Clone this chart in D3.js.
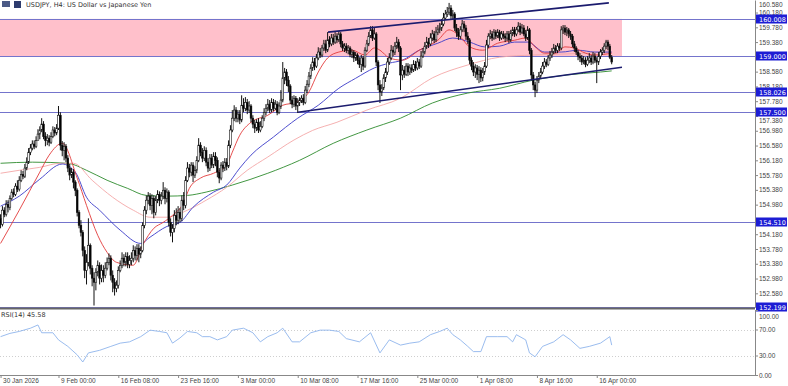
<!DOCTYPE html>
<html>
<head>
<meta charset="utf-8">
<script src="https://cdn.jsdelivr.net/npm/d3@7/dist/d3.min.js"></script>
<style>
  body { margin: 0; background: #fff; }
  svg { display: block; font-family: Tahoma, 'DejaVu Sans', sans-serif; }
</style>
</head>
<body>
<div id="chart"></div>
<script>
// USDJPY H4 candles (bar 0 = 30 Jan 2026)
const firstOpen = 154.61;
const closes = [
  154.45,154.83,154.72,154.99,154.91,155.15,155.32,155.26,155.48,155.40,
  155.64,155.80,155.75,155.97,156.13,156.40,156.51,156.62,156.56,156.72,
  156.89,157.00,157.16,156.83,156.72,156.78,156.67,156.83,157.00,156.92,
  157.05,157.40,156.59,156.45,156.56,156.24,155.97,155.78,155.86,155.59,
  155.37,154.77,154.42,154.23,153.74,153.20,153.42,153.88,153.26,152.99,
  152.88,153.15,153.34,152.99,153.20,153.07,153.26,153.42,153.53,153.07,
  152.88,152.71,152.80,153.20,153.34,153.53,153.42,153.58,153.36,153.47,
  153.53,153.74,153.61,153.80,153.64,153.74,154.42,154.83,155.10,155.21,
  154.96,155.15,154.77,155.10,155.26,155.10,155.21,155.37,155.15,155.32,
  154.50,154.23,154.34,154.69,154.56,154.77,154.61,155.10,154.96,155.64,
  155.97,155.86,156.05,155.78,155.91,156.18,156.59,156.40,156.24,156.45,
  156.13,155.97,156.24,156.05,156.29,156.18,155.86,155.70,156.05,155.97,
  156.13,156.02,156.59,157.00,157.32,157.54,157.32,157.43,157.27,157.67,
  157.59,157.75,157.54,157.65,157.32,157.16,157.05,157.21,157.00,157.10,
  157.32,157.48,157.59,157.70,157.54,157.75,157.59,157.70,157.48,157.65,
  157.81,158.41,158.57,158.35,158.19,157.81,157.70,157.86,157.65,157.75,
  157.81,157.86,157.75,158.08,158.24,158.46,158.68,158.84,158.73,158.95,
  159.11,159.03,159.22,159.33,159.16,159.44,159.33,159.49,159.38,159.54,
  159.44,159.60,159.33,159.22,159.27,159.16,159.22,159.05,159.11,158.95,
  159.03,158.89,158.78,158.95,158.73,159.16,159.33,159.54,159.71,159.49,
  159.60,158.84,158.22,158.03,158.14,158.41,158.57,158.84,158.95,159.16,
  159.11,159.27,159.38,159.22,158.49,158.62,158.51,158.73,158.57,158.68,
  158.62,158.78,158.68,158.84,158.73,159.00,159.11,159.27,159.38,159.33,
  159.49,159.60,159.44,159.65,159.71,159.76,159.87,160.03,160.14,160.19,
  160.30,160.09,160.14,159.76,159.65,159.54,159.71,159.87,159.76,159.54,
  159.44,158.89,158.73,158.57,158.68,158.51,158.62,158.41,158.57,158.73,
  159.30,159.54,159.60,159.49,159.65,159.54,159.65,159.49,159.60,159.54,
  159.49,159.60,159.44,159.62,159.71,159.60,159.71,159.81,159.65,159.76,
  159.60,159.49,159.71,159.16,158.49,158.22,158.08,158.35,158.46,158.57,
  158.73,158.84,158.78,158.95,159.03,159.11,159.22,159.16,159.27,159.22,
  159.71,159.76,159.65,159.71,159.60,159.54,159.33,159.22,159.11,159.00,
  158.95,158.84,158.89,158.78,158.89,158.95,158.84,159.00,158.89,158.84,
  159.00,159.11,159.16,159.27,159.38,159.27,158.97,158.84
];
const highs = [
  154.72,154.94,154.91,155.10,155.10,155.23,155.40,155.42,155.56,155.64,
  155.75,155.91,155.89,156.08,156.26,156.51,156.62,156.72,156.72,156.83,
  157.02,157.10,157.32,157.24,156.94,156.89,156.86,156.94,157.10,157.08,
  157.16,157.65,157.48,156.70,156.67,156.62,156.32,156.08,155.97,155.94,
  155.64,155.42,154.83,154.56,154.29,153.85,153.64,154.61,153.93,153.34,
  153.15,153.26,153.47,153.42,153.36,153.34,153.42,153.55,153.66,153.61,
  153.20,152.99,152.93,153.31,153.47,153.69,153.64,153.69,153.69,153.61,
  153.69,153.88,153.85,153.91,153.91,153.85,154.50,154.94,155.23,155.32,
  155.29,155.26,155.23,155.21,155.37,155.34,155.32,155.59,155.45,155.42,
  155.37,154.61,154.45,154.83,154.88,154.94,154.88,155.23,155.32,155.75,
  156.13,156.08,156.13,156.13,156.02,156.29,156.78,156.67,156.51,156.56,
  156.53,156.24,156.35,156.35,156.40,156.40,156.26,155.97,156.13,156.16,
  156.24,156.24,156.72,157.13,157.54,157.67,157.62,157.54,157.54,157.94,
  157.86,157.89,157.84,157.78,157.70,157.40,157.27,157.29,157.32,157.24,
  157.40,157.59,157.70,157.84,157.81,157.86,157.84,157.81,157.78,157.75,
  158.08,158.84,158.68,158.65,158.46,158.24,157.92,157.94,157.92,157.86,
  157.89,157.94,157.97,158.19,158.35,158.57,158.78,158.97,158.95,159.06,
  159.24,159.22,159.30,159.44,159.44,159.65,159.54,159.60,159.60,159.65,
  159.62,159.68,159.65,159.41,159.35,159.35,159.30,159.27,159.19,159.16,
  159.11,159.08,158.97,159.03,159.00,159.24,159.44,159.65,159.81,159.81,
  159.76,159.65,158.89,158.35,158.24,158.51,158.68,158.95,159.08,159.30,
  159.27,159.38,159.52,159.46,159.27,158.76,158.73,158.81,158.81,158.78,
  158.78,158.89,158.87,158.95,158.92,159.14,159.22,159.38,159.52,159.49,
  159.62,159.71,159.68,159.79,159.84,159.90,160.00,160.17,160.25,160.33,
  160.44,160.38,160.25,160.19,159.87,159.76,159.81,159.98,159.95,159.84,
  159.65,159.49,158.97,158.84,158.78,158.76,158.73,158.70,158.68,158.84,
  159.44,159.62,159.71,159.68,159.73,159.71,159.73,159.71,159.68,159.68,
  159.62,159.68,159.68,159.71,159.79,159.79,159.79,159.92,159.90,159.87,
  159.84,159.71,159.81,159.76,159.22,158.57,158.30,158.46,158.57,158.68,
  158.84,158.95,158.92,159.03,159.14,159.22,159.33,159.30,159.35,159.35,
  159.81,159.84,159.84,159.79,159.76,159.68,159.60,159.41,159.27,159.16,
  159.08,159.03,159.00,158.97,159.00,159.08,159.03,159.11,159.08,158.97,
  159.11,159.19,159.24,159.35,159.44,159.44,159.33,159.03
];
const lows = [
  154.34,154.39,154.64,154.66,154.77,154.83,155.10,155.18,155.21,155.32,
  155.34,155.59,155.67,155.70,155.91,156.08,156.32,156.45,156.48,156.51,
  156.81,156.75,156.94,156.75,156.56,156.59,156.56,156.62,156.78,156.83,
  156.86,157.00,156.45,156.29,156.18,156.13,155.86,155.64,155.70,155.42,
  155.21,154.66,154.34,154.12,153.58,152.99,152.82,153.31,153.09,152.77,
  152.25,152.66,153.04,152.82,152.88,152.88,152.99,153.20,153.34,152.93,
  152.61,152.52,152.61,152.71,153.15,153.26,153.31,153.31,153.26,153.26,
  153.34,153.42,153.47,153.47,153.42,153.53,153.69,154.34,154.72,154.99,
  154.83,154.72,154.61,154.69,155.02,154.94,154.99,155.13,154.99,155.04,
  154.39,154.12,153.96,154.23,154.42,154.45,154.50,154.53,154.83,154.88,
  155.59,155.72,155.75,155.59,155.70,155.83,156.13,156.29,156.13,156.16,
  156.02,155.86,155.89,155.97,155.97,156.02,155.72,155.56,155.64,155.86,
  155.89,155.91,155.97,156.51,156.94,157.24,157.21,157.21,157.16,157.21,
  157.48,157.51,157.43,157.46,157.21,157.05,156.92,156.97,156.92,156.94,
  157.05,157.24,157.40,157.51,157.46,157.48,157.51,157.54,157.40,157.43,
  157.57,157.75,158.24,158.19,158.03,157.70,157.59,157.62,157.54,157.46,
  157.65,157.73,157.67,157.70,158.00,158.16,158.38,158.60,158.62,158.68,
  158.89,158.95,158.97,159.14,159.08,159.11,159.24,159.27,159.30,159.33,
  159.35,159.38,159.24,159.14,159.11,159.08,159.05,158.97,158.95,158.84,
  158.87,158.78,158.68,158.57,158.62,158.68,159.11,159.27,159.49,159.41,
  159.44,158.73,158.08,157.73,157.92,158.08,158.30,158.49,158.76,158.89,
  159.00,159.03,159.19,159.11,158.08,158.35,158.41,158.46,158.46,158.49,
  158.54,158.57,158.60,158.62,158.65,158.68,158.95,159.05,159.19,159.22,
  159.27,159.41,159.35,159.38,159.57,159.62,159.68,159.81,159.98,160.06,
  160.11,160.00,159.98,159.68,159.52,159.44,159.46,159.65,159.65,159.44,
  159.33,158.78,158.62,158.46,158.41,158.35,158.27,158.30,158.32,158.49,
  158.68,159.22,159.46,159.41,159.44,159.46,159.49,159.41,159.44,159.46,
  159.38,159.41,159.35,159.38,159.54,159.52,159.54,159.65,159.57,159.60,
  159.54,159.41,159.44,159.05,158.35,158.08,157.89,158.00,158.27,158.38,
  158.51,158.65,158.70,158.73,158.87,158.95,159.05,159.08,159.08,159.14,
  159.16,159.60,159.57,159.54,159.49,159.44,159.24,159.11,159.03,158.89,
  158.84,158.76,158.78,158.70,158.73,158.81,158.76,158.78,158.81,158.27,
  158.76,158.92,159.03,159.08,159.19,159.16,158.92,158.78
];

// moving averages as [bar, price]
const maRed = [[0,153.93],[10,154.83],[21,155.86],[26,156.32],[33,156.64],[41,155.70],[46,154.96],[52,154.15],[57,153.69],[62,153.42],[71,153.34],[76,153.88],[82,154.34],[87,154.50],[92,154.69],[98,155.04],[101,155.42],[107,155.70],[114,155.83],[121,156.05],[124,156.40],[128,156.86],[134,157.21],[143,157.40],[151,157.67],[158,157.75],[165,158.03],[170,158.57],[175,158.95],[181,159.11],[188,159.16],[195,159.03],[200,159.22],[203,159.16],[208,158.95],[215,158.89],[224,159.16],[234,159.43],[240,159.71],[246,159.52],[251,159.25],[258,159.16],[266,159.35],[275,159.43],[281,159.49],[286,159.25],[291,159.08],[297,159.08],[302,159.25],[307,159.22],[313,159.08],[318,159.03],[327,159.08]];
const maBlue = [[0,154.94],[10,155.21],[21,155.67],[33,156.08],[40,155.86],[46,155.18],[53,154.83],[64,154.29],[75,153.93],[80,154.10],[89,154.39],[96,154.50],[103,154.91],[114,155.32],[121,155.51],[128,155.97],[134,156.32],[146,156.81],[159,157.32],[170,157.67],[181,158.13],[190,158.40],[200,158.68],[208,158.81],[215,158.89],[224,159.16],[234,159.35],[242,159.49],[251,159.38],[259,159.25],[267,159.27],[275,159.38],[282,159.38],[291,159.11],[300,159.11],[309,159.16],[318,159.11],[327,159.11]];
const maPink = [[0,155.83],[10,155.91],[21,155.99],[32,156.10],[39,156.10],[49,155.64],[60,155.18],[71,154.83],[80,154.64],[89,154.64],[100,154.83],[110,155.10],[121,155.45],[132,155.91],[143,156.27],[157,156.73],[167,156.99],[180,157.21],[196,157.54],[214,157.86],[231,158.41],[250,158.76],[267,158.97],[285,159.03],[303,159.06],[327,159.11]];
const maGreen = [[0,156.10],[17,156.13],[36,156.10],[46,155.91],[57,155.64],[68,155.42],[78,155.23],[89,155.21],[100,155.23],[110,155.32],[124,155.51],[143,155.83],[160,156.18],[178,156.64],[196,157.00],[214,157.32],[231,157.73],[250,158.00],[267,158.13],[285,158.35],[303,158.49],[321,158.57],[327,158.60]];

// RSI(14) as [bar, value]
const rsi = [[0,59],[5,64],[10,67],[16,72],[20,77],[22,65],[28,65],[31,54],[36,44],[41,31],[44,20],[47,34],[53,38],[59,44],[64,49],[69,51],[75,59],[80,69],[85,67],[89,65],[92,49],[96,57],[100,67],[105,65],[108,59],[112,59],[116,54],[121,59],[124,69],[130,72],[135,65],[139,51],[143,59],[148,65],[151,72],[156,51],[160,51],[166,65],[171,69],[176,69],[181,67],[185,56],[192,51],[198,65],[203,34],[208,54],[214,46],[219,49],[224,51],[230,62],[235,67],[239,72],[242,62],[246,54],[250,44],[253,36],[257,36],[260,59],[266,59],[271,59],[274,51],[276,62],[281,54],[283,34],[286,28],[290,44],[296,51],[301,62],[305,54],[310,41],[315,44],[321,49],[326,59],[327,46]];

// drawn objects
const levels = [160.008, 159.000, 158.026, 157.500, 154.510, 152.199];
const zone = { from: 0, to: 332.5, top: 160.008, bottom: 159.000 };
const channel = [
  { x1: 175.2, p1: 159.65, x2: 325.5, p2: 160.44 },
  { x1: 159.1, p1: 157.48, x2: 332.5, p2: 158.70 }
];
const priceTicks = [152.58, 152.98, 153.38, 153.78, 154.18, 154.58, 154.98, 155.38, 155.78, 156.18, 156.58, 156.98, 157.38, 157.78, 158.18, 158.58, 158.98, 159.38, 159.78, 160.18, 160.58];
const hiddenTicks = [154.58, 158.98];
const timeBars = [0, 31, 63, 95, 127, 159, 191, 223, 255, 287, 319];
const timeLabels = ['30 Jan 2026', '9 Feb 00:00', '16 Feb 08:00', '23 Feb 16:00', '3 Mar 00:00', '10 Mar 08:00', '17 Mar 16:00', '25 Mar 00:00', '1 Apr 08:00', '8 Apr 16:00', '16 Apr 00:00'];
const rsiTicks = [0, 30, 70, 100];

const width = 788, height = 386;
const axisX = 755;
const mainBottom = 308;

const svg = d3.select('#chart').append('svg')
  .attr('width', width)
  .attr('height', height);

const x = d3.scaleLinear().domain([0, 327]).range([0.56, 611.7]);
const y = d3.scaleLinear().domain([152.199, 160.519]).range([307.4, 0]);
const yRsi = d3.scaleLinear().domain([0, 100]).range([375, 310]);

svg.append('defs').append('clipPath').attr('id', 'clip-main')
  .append('rect').attr('x', 0).attr('y', 0).attr('width', axisX).attr('height', mainBottom);

const main = svg.append('g').attr('clip-path', 'url(#clip-main)');

// pink zone
main.append('rect')
  .attr('x', x(zone.from) - 1)
  .attr('y', y(zone.top))
  .attr('width', x(zone.to) - x(zone.from) + 1)
  .attr('height', y(zone.bottom) - y(zone.top))
  .attr('fill', '#ffc0cb');

// horizontal levels
main.selectAll('line.level')
  .data(levels)
  .enter().append('line')
  .attr('class', 'level')
  .attr('x1', 0).attr('x2', axisX)
  .attr('y1', d => Math.round(y(d)) + 0.5)
  .attr('y2', d => Math.round(y(d)) + 0.5)
  .attr('stroke', '#7474cc')
  .attr('stroke-width', 1);

// moving averages
const maLine = d3.line()
  .x(d => x(d[0]))
  .y(d => y(d[1]))
  .curve(d3.curveMonotoneX);
[[maGreen, '#2e8b2e'], [maPink, '#f4a7a7'], [maBlue, '#3a3ac8'], [maRed, '#e23a3a']].forEach(m => {
  main.append('path')
    .attr('d', maLine(m[0]))
    .attr('fill', 'none')
    .attr('stroke', m[1])
    .attr('stroke-width', 0.9);
});

// candles
const bars = closes.map((c, i) => ({
  i,
  o: i === 0 ? firstOpen : closes[i - 1],
  h: highs[i],
  l: lows[i],
  c
}));

const candle = main.append('g').selectAll('g')
  .data(bars)
  .enter().append('g');

candle.append('line')
  .attr('x1', d => x(d.i))
  .attr('x2', d => x(d.i))
  .attr('y1', d => y(d.h))
  .attr('y2', d => y(d.l))
  .attr('stroke', '#111')
  .attr('stroke-width', 1);

candle.append('rect')
  .attr('x', d => x(d.i) - 0.85)
  .attr('width', 1.7)
  .attr('y', d => y(Math.max(d.o, d.c)))
  .attr('height', d => Math.max(0.8, Math.abs(y(d.o) - y(d.c))))
  .attr('fill', d => d.c >= d.o ? '#fff' : '#000')
  .attr('stroke', '#111')
  .attr('stroke-width', 0.6);

// channel lines
main.selectAll('line.channel')
  .data(channel)
  .enter().append('line')
  .attr('class', 'channel')
  .attr('x1', d => x(d.x1)).attr('y1', d => y(d.p1))
  .attr('x2', d => x(d.x2)).attr('y2', d => y(d.p2))
  .attr('stroke', '#1b1b6e')
  .attr('stroke-width', 1.6);

// window separator
svg.append('line')
  .attr('x1', 0).attr('x2', axisX)
  .attr('y1', mainBottom + 0.5).attr('y2', mainBottom + 0.5)
  .attr('stroke', '#666').attr('stroke-width', 2);

// RSI window
svg.selectAll('line.rsi-level')
  .data([30, 70])
  .enter().append('line')
  .attr('x1', 0).attr('x2', axisX)
  .attr('y1', d => Math.round(yRsi(d)) + 0.5)
  .attr('y2', d => Math.round(yRsi(d)) + 0.5)
  .attr('stroke', '#cfcfcf')
  .attr('stroke-dasharray', '1,2');

svg.append('path')
  .attr('d', d3.line().x(d => x(d[0])).y(d => yRsi(d[1]))(rsi))
  .attr('fill', 'none')
  .attr('stroke', '#8fb4ec')
  .attr('stroke-width', 0.9);

svg.append('text')
  .attr('x', 1).attr('y', 317)
  .attr('font-size', 6.5).attr('fill', '#333')
  .text('RSI(14) 45.58');

// price axis
const yAxis = svg.append('g')
  .attr('transform', `translate(${axisX},0)`)
  .call(d3.axisRight(y).tickValues(priceTicks).tickSize(3).tickSizeOuter(0).tickFormat(d3.format('.3f')));
yAxis.select('.domain').attr('stroke', '#888');
yAxis.selectAll('line').attr('stroke', '#888');
yAxis.selectAll('text').attr('font-size', 6.5).attr('fill', '#444').attr('x', 4);
// the level tags cover these two labels in the picture
yAxis.selectAll('.tick').filter(d => hiddenTicks.includes(d)).select('text').remove();
// nudge labels that sit at the window edge or under a tag
yAxis.selectAll('.tick').filter(d => d === 160.58).select('text').attr('dy', '1.4em');
yAxis.selectAll('.tick').filter(d => d === 157.38).select('text').attr('dy', '0.95em');

// level labels on the axis
const levelTag = svg.append('g').selectAll('g')
  .data(levels)
  .enter().append('g')
  .attr('transform', d => `translate(${axisX + 1},${Math.round(y(d))})`);
levelTag.append('rect')
  .attr('x', 0).attr('y', -4.5)
  .attr('width', 31).attr('height', 9)
  .attr('fill', '#1d1dd4');
levelTag.append('text')
  .attr('x', 3).attr('y', 2.5)
  .attr('font-size', 6.5)
  .attr('fill', '#fff')
  .text(d => d3.format('.3f')(d));

// RSI axis
const rAxis = svg.append('g')
  .attr('transform', `translate(${axisX},0)`)
  .call(d3.axisRight(yRsi).tickValues(rsiTicks).tickSize(3).tickSizeOuter(0).tickFormat(d3.format('.2f')));
rAxis.select('.domain').attr('stroke', '#888');
rAxis.selectAll('line').attr('stroke', '#888');
rAxis.selectAll('text').attr('font-size', 6.5).attr('fill', '#444').attr('x', 4);
rAxis.selectAll('.tick').filter(d => d === 100).select('text').attr('dy', '1.25em');

// time axis
const xAxis = svg.append('g')
  .attr('transform', 'translate(0,375)')
  .call(d3.axisBottom(x).tickValues(timeBars).tickSize(3).tickSizeOuter(0).tickFormat((d, i) => timeLabels[i]));
xAxis.select('.domain').attr('stroke', '#888').attr('d', `M0,0.5H${axisX}`);
xAxis.selectAll('line').attr('stroke', '#888');
xAxis.selectAll('text')
  .attr('font-size', 6.5).attr('fill', '#444')
  .attr('text-anchor', 'start')
  .attr('x', 2).attr('y', 3);

// title
svg.append('rect').attr('x', 2).attr('y', 1).attr('width', 8).attr('height', 6).attr('fill', '#4b5a86');
svg.append('rect').attr('x', 14).attr('y', 1).attr('width', 7).attr('height', 7).attr('fill', '#2e3c6e');
svg.append('text')
  .attr('x', 26).attr('y', 7)
  .attr('font-size', 6.5).attr('fill', '#333')
  .text('USDJPY, H4:  US Dollar vs Japanese Yen');
</script>
</body>
</html>
